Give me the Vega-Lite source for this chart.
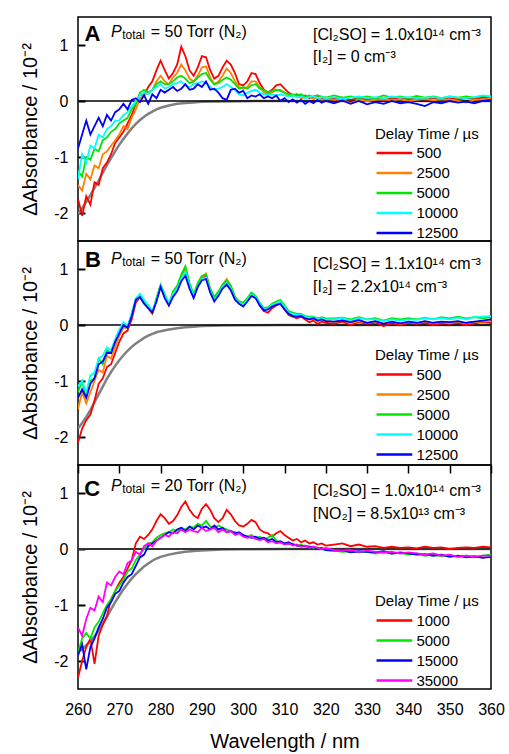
{
"$schema":"https://vega.github.io/schema/vega-lite/v6.json",
"padding":{"left":20,"top":16,"right":5,"bottom":5},
"spacing":0,
"bounds":"flush",
"config":{"font":"Liberation Sans","view":{"stroke":"black","strokeWidth":1.5},
"axis":{"labelColor":"black","titleColor":"black","labelFontSize":16,"titleFontSize":20,"titleFontWeight":"normal","grid":false,"domain":false,"ticks":true,"tickColor":"#000000","tickWidth":2,"tickOpacity":1},
"text":{"color":"black"},
"legend":{"orient":"none","symbolType":"M-1,0H5","symbolSize":142,"symbolStrokeWidth":2.5,"labelOffset":26.4,"rowPadding":4,"titlePadding":4,"padding":0,"labelFontSize":15,"titleFontSize":15,"titleFontWeight":"normal","labelColor":"black","titleColor":"black"}},
"datasets":{
"A":[
{"w":260,"500":-1.75,"2500":-1.5,"5000":-1.25,"10000":-1.4,"12500":-0.85},
{"w":261,"500":-2.05,"2500":-1.6,"5000":-1.35,"10000":-0.95,"12500":-0.6},
{"w":262,"500":-1.7,"2500":-1.3,"5000":-1.0,"10000":-1.1,"12500":-0.35},
{"w":263,"500":-1.85,"2500":-1.4,"5000":-1.05,"10000":-0.8,"12500":-0.6},
{"w":264,"500":-1.45,"2500":-1.15,"5000":-0.85,"10000":-0.85,"12500":-0.45},
{"w":265,"500":-1.5,"2500":-1.2,"5000":-0.9,"10000":-0.6,"12500":-0.3},
{"w":266,"500":-1.2,"2500":-0.95,"5000":-0.7,"10000":-0.65,"12500":-0.45},
{"w":267,"500":-1.1,"2500":-0.9,"5000":-0.65,"10000":-0.5,"12500":-0.25},
{"w":268,"500":-0.95,"2500":-0.8,"5000":-0.55,"10000":-0.45,"12500":-0.35},
{"w":269,"500":-0.75,"2500":-0.7,"5000":-0.5,"10000":-0.35,"12500":-0.2},
{"w":270,"500":-0.65,"2500":-0.6,"5000":-0.4,"10000":-0.35,"12500":-0.15},
{"w":271,"500":-0.55,"2500":-0.45,"5000":-0.35,"10000":-0.25,"12500":-0.05},
{"w":272,"500":-0.4,"2500":-0.5,"5000":-0.3,"10000":-0.2,"12500":-0.15},
{"w":273,"500":-0.25,"2500":-0.3,"5000":-0.15,"10000":-0.1,"12500":0.02},
{"w":274,"500":-0.05,"2500":-0.15,"5000":-0.05,"10000":0.0,"12500":0.05},
{"w":275,"500":0.12,"2500":0.05,"5000":0.15,"10000":0.1,"12500":-0.02},
{"w":276,"500":0.1,"2500":0.1,"5000":0.2,"10000":0.15,"12500":0.1},
{"w":277,"500":0.25,"2500":0.15,"5000":0.15,"10000":0.12,"12500":-0.05},
{"w":278,"500":0.35,"2500":0.2,"5000":0.2,"10000":0.2,"12500":0.12},
{"w":279,"500":0.55,"2500":0.35,"5000":0.3,"10000":0.25,"12500":0.05},
{"w":280,"500":0.72,"2500":0.45,"5000":0.35,"10000":0.3,"12500":0.2},
{"w":281,"500":0.55,"2500":0.35,"5000":0.3,"10000":0.22,"12500":0.15},
{"w":282,"500":0.4,"2500":0.3,"5000":0.3,"10000":0.25,"12500":0.2},
{"w":283,"500":0.5,"2500":0.42,"5000":0.35,"10000":0.3,"12500":0.25},
{"w":284,"500":0.65,"2500":0.5,"5000":0.42,"10000":0.32,"12500":0.18},
{"w":285,"500":0.97,"2500":0.65,"5000":0.45,"10000":0.35,"12500":0.22},
{"w":286,"500":0.8,"2500":0.55,"5000":0.4,"10000":0.28,"12500":0.3},
{"w":287,"500":0.55,"2500":0.4,"5000":0.32,"10000":0.25,"12500":0.2},
{"w":288,"500":0.45,"2500":0.35,"5000":0.35,"10000":0.3,"12500":0.22},
{"w":289,"500":0.6,"2500":0.45,"5000":0.42,"10000":0.32,"12500":0.3},
{"w":290,"500":0.8,"2500":0.6,"5000":0.48,"10000":0.35,"12500":0.25},
{"w":291,"500":0.78,"2500":0.62,"5000":0.5,"10000":0.33,"12500":0.35},
{"w":292,"500":0.55,"2500":0.42,"5000":0.38,"10000":0.25,"12500":0.2},
{"w":293,"500":0.4,"2500":0.3,"5000":0.3,"10000":0.2,"12500":0.22},
{"w":294,"500":0.45,"2500":0.35,"5000":0.32,"10000":0.22,"12500":0.15},
{"w":295,"500":0.6,"2500":0.45,"5000":0.38,"10000":0.25,"12500":0.05},
{"w":296,"500":0.72,"2500":0.58,"5000":0.42,"10000":0.3,"12500":0.02},
{"w":297,"500":0.65,"2500":0.5,"5000":0.38,"10000":0.25,"12500":0.2},
{"w":298,"500":0.5,"2500":0.35,"5000":0.3,"10000":0.2,"12500":0.22},
{"w":299,"500":0.3,"2500":0.25,"5000":0.22,"10000":0.12,"12500":0.15},
{"w":300,"500":0.28,"2500":0.22,"5000":0.25,"10000":0.1,"12500":0.18},
{"w":301,"500":0.35,"2500":0.25,"5000":0.22,"10000":0.15,"12500":0.05},
{"w":302,"500":0.5,"2500":0.35,"5000":0.28,"10000":0.18,"12500":0.1},
{"w":303,"500":0.48,"2500":0.35,"5000":0.3,"10000":0.2,"12500":0.08},
{"w":304,"500":0.32,"2500":0.25,"5000":0.22,"10000":0.15,"12500":0.12},
{"w":305,"500":0.2,"2500":0.15,"5000":0.2,"10000":0.12,"12500":0.05},
{"w":306,"500":0.15,"2500":0.12,"5000":0.15,"10000":0.1,"12500":0.08},
{"w":307,"500":0.2,"2500":0.15,"5000":0.18,"10000":0.12,"12500":0.05},
{"w":308,"500":0.28,"2500":0.2,"5000":0.2,"10000":0.1,"12500":0.1},
{"w":309,"500":0.3,"2500":0.2,"5000":0.18,"10000":0.12,"12500":0.0},
{"w":310,"500":0.22,"2500":0.15,"5000":0.15,"10000":0.1,"12500":0.05},
{"w":311,"500":0.15,"2500":0.1,"5000":0.12,"10000":0.08,"12500":-0.02},
{"w":312,"500":0.1,"2500":0.08,"5000":0.12,"10000":0.1,"12500":0.03},
{"w":313,"500":0.12,"2500":0.1,"5000":0.1,"10000":0.06,"12500":-0.03},
{"w":314,"500":0.08,"2500":0.05,"5000":0.12,"10000":0.08,"12500":0.02},
{"w":315,"500":0.1,"2500":0.06,"5000":0.08,"10000":0.05,"12500":-0.05},
{"w":316,"500":0.05,"2500":0.08,"5000":0.1,"10000":0.07,"12500":0.0},
{"w":317,"500":0.08,"2500":0.04,"5000":0.07,"10000":0.09,"12500":-0.04},
{"w":318,"500":0.1,"2500":0.06,"5000":0.1,"10000":0.05,"12500":0.02},
{"w":319,"500":0.05,"2500":0.02,"5000":0.08,"10000":0.07,"12500":-0.03},
{"w":320,"500":0.06,"2500":0.04,"5000":0.06,"10000":0.05,"12500":0.0},
{"w":322,"500":0.04,"2500":0.02,"5000":0.1,"10000":0.07,"12500":-0.04},
{"w":324,"500":0.06,"2500":0.03,"5000":0.06,"10000":0.04,"12500":0.01},
{"w":326,"500":0.02,"2500":-0.04,"5000":0.08,"10000":0.06,"12500":-0.05},
{"w":328,"500":0.05,"2500":0.02,"5000":0.05,"10000":0.08,"12500":0.0},
{"w":330,"500":0.03,"2500":0.0,"5000":0.08,"10000":0.05,"12500":-0.06},
{"w":332,"500":0.05,"2500":0.02,"5000":0.05,"10000":0.07,"12500":-0.02},
{"w":334,"500":0.02,"2500":0.03,"5000":0.1,"10000":0.05,"12500":-0.05},
{"w":336,"500":0.04,"2500":0.01,"5000":0.06,"10000":0.08,"12500":0.0},
{"w":338,"500":0.06,"2500":0.03,"5000":0.08,"10000":0.06,"12500":-0.04},
{"w":340,"500":0.03,"2500":0.0,"5000":0.05,"10000":0.07,"12500":-0.02},
{"w":342,"500":0.05,"2500":0.02,"5000":0.09,"10000":0.05,"12500":-0.05},
{"w":344,"500":0.02,"2500":0.04,"5000":0.06,"10000":0.06,"12500":-0.09},
{"w":346,"500":0.05,"2500":0.01,"5000":0.08,"10000":0.07,"12500":-0.02},
{"w":348,"500":0.04,"2500":0.03,"5000":0.05,"10000":0.05,"12500":-0.04},
{"w":350,"500":0.06,"2500":0.02,"5000":0.08,"10000":0.08,"12500":0.0},
{"w":352,"500":0.03,"2500":0.0,"5000":0.06,"10000":0.06,"12500":-0.03},
{"w":354,"500":0.05,"2500":-0.03,"5000":0.08,"10000":0.05,"12500":-0.01},
{"w":356,"500":0.04,"2500":0.02,"5000":0.06,"10000":0.07,"12500":-0.04},
{"w":358,"500":0.06,"2500":0.03,"5000":0.09,"10000":0.1,"12500":0.0},
{"w":360,"500":0.05,"2500":0.04,"5000":0.07,"10000":0.08,"12500":0.02}
],
"B":[
{"w":260,"500":-2.1,"2500":-1.5,"5000":-1.2,"10000":-1.1,"12500":-1.3},
{"w":261,"500":-1.85,"2500":-1.2,"5000":-1.0,"10000":-1.0,"12500":-1.15},
{"w":262,"500":-1.7,"2500":-1.4,"5000":-1.3,"10000":-1.2,"12500":-1.3},
{"w":263,"500":-1.6,"2500":-1.2,"5000":-1.0,"10000":-0.9,"12500":-1.05},
{"w":264,"500":-1.35,"2500":-1.0,"5000":-0.95,"10000":-0.85,"12500":-0.95},
{"w":265,"500":-1.05,"2500":-0.8,"5000":-0.6,"10000":-0.6,"12500":-0.7},
{"w":266,"500":-0.95,"2500":-0.85,"5000":-0.7,"10000":-0.55,"12500":-0.65},
{"w":267,"500":-0.75,"2500":-0.55,"5000":-0.45,"10000":-0.4,"12500":-0.5},
{"w":268,"500":-0.7,"2500":-0.6,"5000":-0.5,"10000":-0.45,"12500":-0.5},
{"w":269,"500":-0.5,"2500":-0.4,"5000":-0.3,"10000":-0.25,"12500":-0.3},
{"w":270,"500":-0.3,"2500":-0.2,"5000":-0.1,"10000":-0.08,"12500":-0.15},
{"w":271,"500":-0.15,"2500":-0.05,"5000":0.0,"10000":0.05,"12500":0.0},
{"w":272,"500":-0.1,"2500":-0.05,"5000":-0.05,"10000":-0.02,"12500":-0.05},
{"w":273,"500":0.1,"2500":0.15,"5000":0.2,"10000":0.2,"12500":0.15},
{"w":274,"500":0.4,"2500":0.45,"5000":0.45,"10000":0.48,"12500":0.45},
{"w":275,"500":0.5,"2500":0.5,"5000":0.55,"10000":0.55,"12500":0.5},
{"w":276,"500":0.4,"2500":0.4,"5000":0.42,"10000":0.45,"12500":0.38},
{"w":277,"500":0.3,"2500":0.32,"5000":0.35,"10000":0.35,"12500":0.3},
{"w":278,"500":0.2,"2500":0.22,"5000":0.22,"10000":0.25,"12500":0.22},
{"w":279,"500":0.45,"2500":0.45,"5000":0.48,"10000":0.45,"12500":0.42},
{"w":280,"500":0.7,"2500":0.68,"5000":0.72,"10000":0.7,"12500":0.68},
{"w":281,"500":0.5,"2500":0.5,"5000":0.55,"10000":0.52,"12500":0.48},
{"w":282,"500":0.35,"2500":0.38,"5000":0.38,"10000":0.4,"12500":0.35},
{"w":283,"500":0.55,"2500":0.55,"5000":0.6,"10000":0.55,"12500":0.5},
{"w":284,"500":0.65,"2500":0.68,"5000":0.7,"10000":0.65,"12500":0.6},
{"w":285,"500":0.85,"2500":0.85,"5000":0.9,"10000":0.82,"12500":0.78},
{"w":286,"500":1.0,"2500":0.98,"5000":1.05,"10000":0.95,"12500":0.88},
{"w":287,"500":0.72,"2500":0.72,"5000":0.75,"10000":0.7,"12500":0.65},
{"w":288,"500":0.5,"2500":0.52,"5000":0.55,"10000":0.52,"12500":0.48},
{"w":289,"500":0.7,"2500":0.72,"5000":0.75,"10000":0.7,"12500":0.68},
{"w":290,"500":0.85,"2500":0.85,"5000":0.88,"10000":0.82,"12500":0.8},
{"w":291,"500":0.88,"2500":0.92,"5000":0.9,"10000":0.85,"12500":0.82},
{"w":292,"500":0.62,"2500":0.65,"5000":0.65,"10000":0.6,"12500":0.58},
{"w":293,"500":0.45,"2500":0.48,"5000":0.5,"10000":0.45,"12500":0.42},
{"w":294,"500":0.55,"2500":0.58,"5000":0.6,"10000":0.55,"12500":0.52},
{"w":295,"500":0.7,"2500":0.72,"5000":0.72,"10000":0.68,"12500":0.65},
{"w":296,"500":0.78,"2500":0.82,"5000":0.8,"10000":0.75,"12500":0.72},
{"w":297,"500":0.68,"2500":0.7,"5000":0.7,"10000":0.65,"12500":0.62},
{"w":298,"500":0.5,"2500":0.48,"5000":0.5,"10000":0.46,"12500":0.45},
{"w":299,"500":0.4,"2500":0.42,"5000":0.42,"10000":0.4,"12500":0.38},
{"w":300,"500":0.35,"2500":0.38,"5000":0.4,"10000":0.36,"12500":0.33},
{"w":301,"500":0.45,"2500":0.45,"5000":0.48,"10000":0.45,"12500":0.42},
{"w":302,"500":0.55,"2500":0.55,"5000":0.58,"10000":0.54,"12500":0.52},
{"w":303,"500":0.5,"2500":0.5,"5000":0.52,"10000":0.5,"12500":0.48},
{"w":304,"500":0.35,"2500":0.38,"5000":0.4,"10000":0.38,"12500":0.35},
{"w":305,"500":0.25,"2500":0.28,"5000":0.3,"10000":0.28,"12500":0.26},
{"w":306,"500":0.22,"2500":0.3,"5000":0.32,"10000":0.3,"12500":0.28},
{"w":307,"500":0.3,"2500":0.35,"5000":0.38,"10000":0.36,"12500":0.33},
{"w":308,"500":0.35,"2500":0.38,"5000":0.42,"10000":0.38,"12500":0.36},
{"w":309,"500":0.38,"2500":0.4,"5000":0.45,"10000":0.42,"12500":0.38},
{"w":310,"500":0.28,"2500":0.3,"5000":0.35,"10000":0.32,"12500":0.28},
{"w":311,"500":0.18,"2500":0.2,"5000":0.25,"10000":0.22,"12500":0.2},
{"w":312,"500":0.15,"2500":0.18,"5000":0.22,"10000":0.2,"12500":0.16},
{"w":313,"500":0.12,"2500":0.15,"5000":0.2,"10000":0.18,"12500":0.15},
{"w":314,"500":0.15,"2500":0.17,"5000":0.2,"10000":0.18,"12500":0.16},
{"w":315,"500":0.1,"2500":0.12,"5000":0.16,"10000":0.14,"12500":0.12},
{"w":316,"500":0.05,"2500":0.1,"5000":0.15,"10000":0.13,"12500":0.1},
{"w":317,"500":0.08,"2500":0.12,"5000":0.15,"10000":0.14,"12500":0.12},
{"w":318,"500":0.02,"2500":0.06,"5000":0.12,"10000":0.1,"12500":0.08},
{"w":319,"500":0.06,"2500":0.1,"5000":0.14,"10000":0.12,"12500":0.1},
{"w":320,"500":0.04,"2500":0.08,"5000":0.12,"10000":0.1,"12500":0.07},
{"w":322,"500":0.02,"2500":0.05,"5000":0.12,"10000":0.1,"12500":0.06},
{"w":324,"500":0.06,"2500":0.08,"5000":0.13,"10000":0.12,"12500":0.08},
{"w":326,"500":0.0,"2500":0.04,"5000":0.1,"10000":0.08,"12500":0.05},
{"w":328,"500":0.05,"2500":0.07,"5000":0.14,"10000":0.12,"12500":0.09},
{"w":330,"500":0.02,"2500":0.04,"5000":0.1,"10000":0.1,"12500":0.04},
{"w":332,"500":0.04,"2500":0.06,"5000":0.12,"10000":0.1,"12500":0.07},
{"w":334,"500":-0.02,"2500":0.03,"5000":0.08,"10000":0.07,"12500":0.02},
{"w":336,"500":0.03,"2500":0.06,"5000":0.12,"10000":0.1,"12500":0.06},
{"w":338,"500":0.0,"2500":0.02,"5000":0.1,"10000":0.08,"12500":0.03},
{"w":340,"500":0.04,"2500":0.05,"5000":0.12,"10000":0.1,"12500":0.06},
{"w":342,"500":0.02,"2500":0.03,"5000":0.1,"10000":0.09,"12500":0.04},
{"w":344,"500":0.04,"2500":0.06,"5000":0.13,"10000":0.12,"12500":0.07},
{"w":346,"500":0.0,"2500":0.03,"5000":0.1,"10000":0.1,"12500":0.04},
{"w":348,"500":0.03,"2500":0.05,"5000":0.14,"10000":0.12,"12500":0.06},
{"w":350,"500":0.02,"2500":0.03,"5000":0.12,"10000":0.1,"12500":0.05},
{"w":352,"500":0.04,"2500":0.06,"5000":0.15,"10000":0.13,"12500":0.07},
{"w":354,"500":0.0,"2500":0.03,"5000":0.12,"10000":0.1,"12500":0.04},
{"w":356,"500":0.03,"2500":0.05,"5000":0.14,"10000":0.14,"12500":0.06},
{"w":358,"500":0.05,"2500":0.06,"5000":0.12,"10000":0.15,"12500":0.08},
{"w":360,"500":0.04,"2500":0.07,"5000":0.14,"10000":0.16,"12500":0.1}
],
"C":[
{"w":260,"1000":-2.3,"5000":-1.85,"15000":-1.9,"35000":-1.4},
{"w":261,"1000":-2.0,"5000":-1.6,"15000":-1.7,"35000":-1.55},
{"w":262,"1000":-1.75,"5000":-1.5,"15000":-2.15,"35000":-1.25},
{"w":263,"1000":-1.6,"5000":-1.6,"15000":-1.75,"35000":-1.05},
{"w":264,"1000":-2.05,"5000":-1.4,"15000":-1.6,"35000":-1.1},
{"w":265,"1000":-1.55,"5000":-1.3,"15000":-1.4,"35000":-0.85},
{"w":266,"1000":-1.35,"5000":-1.15,"15000":-1.25,"35000":-0.95},
{"w":267,"1000":-1.2,"5000":-1.0,"15000":-1.05,"35000":-0.6},
{"w":268,"1000":-0.9,"5000":-0.9,"15000":-0.95,"35000":-0.65},
{"w":269,"1000":-0.75,"5000":-0.75,"15000":-0.8,"35000":-0.5},
{"w":270,"1000":-0.6,"5000":-0.65,"15000":-0.75,"35000":-0.4},
{"w":271,"1000":-0.5,"5000":-0.55,"15000":-0.6,"35000":-0.45},
{"w":272,"1000":-0.35,"5000":-0.4,"15000":-0.5,"35000":-0.25},
{"w":273,"1000":-0.2,"5000":-0.35,"15000":-0.45,"35000":-0.2},
{"w":274,"1000":0.1,"5000":-0.2,"15000":-0.3,"35000":-0.05},
{"w":275,"1000":0.22,"5000":-0.1,"15000":-0.15,"35000":-0.1},
{"w":276,"1000":0.18,"5000":0.0,"15000":-0.1,"35000":0.05},
{"w":277,"1000":0.25,"5000":0.1,"15000":0.05,"35000":0.1},
{"w":278,"1000":0.35,"5000":0.12,"15000":0.1,"35000":0.05},
{"w":279,"1000":0.5,"5000":0.2,"15000":0.15,"35000":0.15},
{"w":280,"1000":0.62,"5000":0.25,"15000":0.2,"35000":0.2},
{"w":281,"1000":0.55,"5000":0.28,"15000":0.25,"35000":0.25},
{"w":282,"1000":0.45,"5000":0.3,"15000":0.3,"35000":0.22},
{"w":283,"1000":0.5,"5000":0.35,"15000":0.28,"35000":0.3},
{"w":284,"1000":0.6,"5000":0.32,"15000":0.35,"35000":0.28},
{"w":285,"1000":0.75,"5000":0.38,"15000":0.38,"35000":0.35},
{"w":286,"1000":0.85,"5000":0.35,"15000":0.32,"35000":0.3},
{"w":287,"1000":0.7,"5000":0.4,"15000":0.4,"35000":0.35},
{"w":288,"1000":0.6,"5000":0.38,"15000":0.35,"35000":0.32},
{"w":289,"1000":0.55,"5000":0.45,"15000":0.42,"35000":0.3},
{"w":290,"1000":0.72,"5000":0.42,"15000":0.38,"35000":0.38},
{"w":291,"1000":0.8,"5000":0.5,"15000":0.4,"35000":0.32},
{"w":292,"1000":0.7,"5000":0.4,"15000":0.35,"35000":0.35},
{"w":293,"1000":0.55,"5000":0.38,"15000":0.42,"35000":0.38},
{"w":294,"1000":0.48,"5000":0.42,"15000":0.35,"35000":0.3},
{"w":295,"1000":0.55,"5000":0.38,"15000":0.38,"35000":0.35},
{"w":296,"1000":0.7,"5000":0.35,"15000":0.3,"35000":0.3},
{"w":297,"1000":0.62,"5000":0.32,"15000":0.32,"35000":0.32},
{"w":298,"1000":0.5,"5000":0.3,"15000":0.28,"35000":0.25},
{"w":299,"1000":0.42,"5000":0.28,"15000":0.3,"35000":0.28},
{"w":300,"1000":0.4,"5000":0.25,"15000":0.25,"35000":0.22},
{"w":301,"1000":0.45,"5000":0.22,"15000":0.22,"35000":0.2},
{"w":302,"1000":0.52,"5000":0.25,"15000":0.2,"35000":0.22},
{"w":303,"1000":0.48,"5000":0.2,"15000":0.22,"35000":0.18},
{"w":304,"1000":0.35,"5000":0.22,"15000":0.18,"35000":0.16},
{"w":305,"1000":0.3,"5000":0.18,"15000":0.2,"35000":0.18},
{"w":306,"1000":0.28,"5000":0.2,"15000":0.15,"35000":0.12},
{"w":307,"1000":0.22,"5000":0.25,"15000":0.18,"35000":0.14},
{"w":308,"1000":0.28,"5000":0.15,"15000":0.12,"35000":0.1},
{"w":309,"1000":0.32,"5000":0.12,"15000":0.14,"35000":0.12},
{"w":310,"1000":0.25,"5000":0.1,"15000":0.1,"35000":0.08},
{"w":311,"1000":0.2,"5000":0.08,"15000":0.12,"35000":0.1},
{"w":312,"1000":0.15,"5000":0.1,"15000":0.08,"35000":0.06},
{"w":313,"1000":0.18,"5000":0.06,"15000":0.06,"35000":0.08},
{"w":314,"1000":0.12,"5000":0.08,"15000":0.05,"35000":0.04},
{"w":315,"1000":0.15,"5000":0.04,"15000":0.06,"35000":0.06},
{"w":316,"1000":0.1,"5000":0.05,"15000":0.03,"35000":0.02},
{"w":317,"1000":0.12,"5000":0.02,"15000":0.04,"35000":0.04},
{"w":318,"1000":0.08,"5000":0.03,"15000":0.0,"35000":0.02},
{"w":319,"1000":0.1,"5000":0.0,"15000":0.02,"35000":0.0},
{"w":320,"1000":0.06,"5000":-0.02,"15000":-0.02,"35000":0.02},
{"w":322,"1000":0.08,"5000":-0.03,"15000":-0.03,"35000":-0.02},
{"w":324,"1000":0.1,"5000":-0.05,"15000":-0.02,"35000":-0.03},
{"w":326,"1000":0.05,"5000":-0.04,"15000":-0.06,"35000":-0.02},
{"w":328,"1000":0.08,"5000":-0.06,"15000":-0.04,"35000":-0.05},
{"w":330,"1000":0.04,"5000":-0.05,"15000":-0.05,"35000":-0.03},
{"w":332,"1000":0.05,"5000":-0.08,"15000":-0.06,"35000":-0.05},
{"w":334,"1000":0.02,"5000":-0.06,"15000":-0.04,"35000":-0.06},
{"w":336,"1000":0.04,"5000":-0.08,"15000":-0.08,"35000":-0.05},
{"w":338,"1000":0.02,"5000":-0.07,"15000":-0.06,"35000":-0.08},
{"w":340,"1000":0.03,"5000":-0.1,"15000":-0.08,"35000":-0.06},
{"w":342,"1000":0.01,"5000":-0.08,"15000":-0.1,"35000":-0.08},
{"w":344,"1000":0.04,"5000":-0.12,"15000":-0.09,"35000":-0.1},
{"w":346,"1000":0.02,"5000":-0.1,"15000":-0.12,"35000":-0.08},
{"w":348,"1000":0.03,"5000":-0.13,"15000":-0.1,"35000":-0.12},
{"w":350,"1000":0.0,"5000":-0.12,"15000":-0.14,"35000":-0.1},
{"w":352,"1000":0.02,"5000":-0.14,"15000":-0.12,"35000":-0.14},
{"w":354,"1000":0.03,"5000":-0.12,"15000":-0.15,"35000":-0.12},
{"w":356,"1000":0.02,"5000":-0.15,"15000":-0.13,"35000":-0.14},
{"w":358,"1000":0.04,"5000":-0.12,"15000":-0.16,"35000":-0.12},
{"w":360,"1000":0.03,"5000":-0.1,"15000":-0.14,"35000":-0.12}
],
"gA":[{"w":260,"g":-2.02},{"w":261,"g":-1.92},{"w":262,"g":-1.8},{"w":263,"g":-1.68},{"w":264,"g":-1.55},{"w":265,"g":-1.42},{"w":266,"g":-1.28},{"w":267,"g":-1.15},{"w":268,"g":-1.02},{"w":269,"g":-0.9},{"w":270,"g":-0.78},{"w":271,"g":-0.68},{"w":272,"g":-0.58},{"w":273,"g":-0.49},{"w":274,"g":-0.41},{"w":275,"g":-0.34},{"w":276,"g":-0.28},{"w":277,"g":-0.23},{"w":278,"g":-0.19},{"w":279,"g":-0.15},{"w":280,"g":-0.12},{"w":282,"g":-0.08},{"w":284,"g":-0.05},{"w":286,"g":-0.035},{"w":288,"g":-0.025},{"w":290,"g":-0.015},{"w":295,"g":-0.008},{"w":300,"g":-0.003},{"w":310,"g":0},{"w":360,"g":0}],
"gB":[{"w":260,"g":-1.85},{"w":261,"g":-1.75},{"w":262,"g":-1.64},{"w":263,"g":-1.52},{"w":264,"g":-1.38},{"w":265,"g":-1.24},{"w":266,"g":-1.1},{"w":267,"g":-0.96},{"w":268,"g":-0.84},{"w":269,"g":-0.73},{"w":270,"g":-0.63},{"w":271,"g":-0.54},{"w":272,"g":-0.46},{"w":273,"g":-0.39},{"w":274,"g":-0.33},{"w":275,"g":-0.28},{"w":276,"g":-0.23},{"w":277,"g":-0.19},{"w":278,"g":-0.16},{"w":279,"g":-0.13},{"w":280,"g":-0.11},{"w":282,"g":-0.08},{"w":284,"g":-0.06},{"w":286,"g":-0.04},{"w":288,"g":-0.03},{"w":290,"g":-0.02},{"w":295,"g":-0.01},{"w":300,"g":-0.005},{"w":310,"g":0},{"w":360,"g":0}],
"gC":[{"w":260,"g":-1.84},{"w":261,"g":-1.79},{"w":262,"g":-1.72},{"w":263,"g":-1.64},{"w":264,"g":-1.56},{"w":265,"g":-1.45},{"w":266,"g":-1.34},{"w":267,"g":-1.21},{"w":268,"g":-1.08},{"w":269,"g":-0.95},{"w":270,"g":-0.83},{"w":271,"g":-0.72},{"w":272,"g":-0.62},{"w":273,"g":-0.53},{"w":274,"g":-0.45},{"w":275,"g":-0.38},{"w":276,"g":-0.31},{"w":277,"g":-0.26},{"w":278,"g":-0.21},{"w":279,"g":-0.17},{"w":280,"g":-0.14},{"w":282,"g":-0.1},{"w":284,"g":-0.07},{"w":286,"g":-0.05},{"w":288,"g":-0.035},{"w":290,"g":-0.025},{"w":295,"g":-0.01},{"w":300,"g":-0.005},{"w":310,"g":0},{"w":360,"g":0}]
},
"resolve":{"scale":{"color":"independent"},"legend":{"color":"independent"}},
"vconcat":[
{"width":413,"height":224,
"layer":[
{"data":{"name":"gA"},"mark":{"type":"line","color":"#808080","strokeWidth":2.5,"clip":true},
"encoding":{"x":{"field":"w","type":"quantitative","scale":{"domain":[260,360],"nice":false},"axis":null},
"y":{"field":"g","type":"quantitative","scale":{"domain":[-2.5,1.5],"nice":false},"axis":{"title":"ΔAbsorbance / 10⁻²","values":[-2,-1.5,-1,-0.5,0,0.5,1],"ticks":true,"tickSize":-7,"labelPadding":17,"titlePadding":13,"labelExpr":"datum.value % 1 != 0 ? '' : (datum.value < 0 ? '-' + abs(datum.value) : format(datum.value, 'd'))"}}}},
{"data":{"values":[{}]},"mark":{"type":"rule","color":"black","strokeWidth":1.5},"encoding":{"y":{"datum":0}}},
{"data":{"name":"A"},"transform":[{"fold":["500","2500","5000","10000","12500"],"as":["s","v"]}],
"mark":{"type":"line","strokeWidth":1.8,"clip":true},
"encoding":{"x":{"field":"w","type":"quantitative"},"y":{"field":"v","type":"quantitative"},
"color":{"field":"s","type":"nominal","scale":{"domain":["500","2500","5000","10000","12500"],"range":["#ff0000","#ff8000","#00e600","#00ffff","#0000ff"]},"legend":{"title":"Delay Time / µs","legendX":297,"legendY":109.5}}}},
{"data":{"values":[{}]},"mark":{"type":"text","text":"A","align":"left","baseline":"alphabetic","fontSize":22,"fontWeight":"bold"},"encoding":{"x":{"datum":261.6},"y":{"datum":1.08}}},
{"data":{"values":[{}]},"mark":{"type":"text","text":"P","align":"left","baseline":"alphabetic","fontSize":16,"fontStyle":"italic"},"encoding":{"x":{"datum":268.0},"y":{"datum":1.143}}},
{"data":{"values":[{}]},"mark":{"type":"text","text":"total","align":"left","baseline":"alphabetic","fontSize":12},"encoding":{"x":{"datum":270.7},"y":{"datum":1.112}}},
{"data":{"values":[{}]},"mark":{"type":"text","text":"= 50 Torr (N₂)","align":"left","baseline":"alphabetic","fontSize":16},"encoding":{"x":{"datum":277.6},"y":{"datum":1.143}}},
{"data":{"values":[{}]},"mark":{"type":"text","text":"[Cl₂SO] = 1.0x10¹⁴ cm⁻³","align":"left","baseline":"alphabetic","fontSize":16},"encoding":{"x":{"datum":316.9},"y":{"datum":1.09}}},
{"data":{"values":[{}]},"mark":{"type":"text","text":"[I₂] = 0 cm⁻³","align":"left","baseline":"alphabetic","fontSize":16},"encoding":{"x":{"datum":316.9},"y":{"datum":0.70}}}
]},
{"width":413,"height":224,
"layer":[
{"data":{"name":"gB"},"mark":{"type":"line","color":"#808080","strokeWidth":2.5,"clip":true},
"encoding":{"x":{"field":"w","type":"quantitative","scale":{"domain":[260,360],"nice":false},"axis":{"title":null,"labels":false,"domain":false,"ticks":true,"tickSize":8,"tickWidth":1.5,"values":[260,265,270,275,280,285,290,295,300,305,310,315,320,325,330,335,340,345,350,355,360]}},
"y":{"field":"g","type":"quantitative","scale":{"domain":[-2.5,1.5],"nice":false},"axis":{"title":"ΔAbsorbance / 10⁻²","values":[-2,-1.5,-1,-0.5,0,0.5,1],"ticks":true,"tickSize":-7,"labelPadding":17,"titlePadding":13,"labelExpr":"datum.value % 1 != 0 ? '' : (datum.value < 0 ? '-' + abs(datum.value) : format(datum.value, 'd'))"}}}},
{"data":{"values":[{}]},"mark":{"type":"rule","color":"black","strokeWidth":1.5},"encoding":{"y":{"datum":0}}},
{"data":{"name":"B"},"transform":[{"fold":["500","2500","5000","10000","12500"],"as":["s","v"]}],
"mark":{"type":"line","strokeWidth":1.8,"clip":true},
"encoding":{"x":{"field":"w","type":"quantitative"},"y":{"field":"v","type":"quantitative"},
"color":{"field":"s","type":"nominal","scale":{"domain":["500","2500","5000","10000","12500"],"range":["#ff0000","#ff8000","#00e600","#00ffff","#0000ff"]},"legend":{"title":"Delay Time / µs","legendX":297,"legendY":107}}}},
{"data":{"values":[{}]},"mark":{"type":"text","text":"B","align":"left","baseline":"alphabetic","fontSize":22,"fontWeight":"bold"},"encoding":{"x":{"datum":261.7},"y":{"datum":1.03}}},
{"data":{"values":[{}]},"mark":{"type":"text","text":"P","align":"left","baseline":"alphabetic","fontSize":16,"fontStyle":"italic"},"encoding":{"x":{"datum":268.0},"y":{"datum":1.084}}},
{"data":{"values":[{}]},"mark":{"type":"text","text":"total","align":"left","baseline":"alphabetic","fontSize":12},"encoding":{"x":{"datum":270.7},"y":{"datum":1.054}}},
{"data":{"values":[{}]},"mark":{"type":"text","text":"= 50 Torr (N₂)","align":"left","baseline":"alphabetic","fontSize":16},"encoding":{"x":{"datum":277.6},"y":{"datum":1.084}}},
{"data":{"values":[{}]},"mark":{"type":"text","text":"[Cl₂SO] = 1.1x10¹⁴ cm⁻³","align":"left","baseline":"alphabetic","fontSize":16},"encoding":{"x":{"datum":316.9},"y":{"datum":0.995}}},
{"data":{"values":[{}]},"mark":{"type":"text","text":"[I₂] =  2.2x10¹⁴ cm⁻³","align":"left","baseline":"alphabetic","fontSize":16},"encoding":{"x":{"datum":316.9},"y":{"datum":0.584}}}
]},
{"width":413,"height":224,
"layer":[
{"data":{"name":"gC"},"mark":{"type":"line","color":"#808080","strokeWidth":2.5,"clip":true},
"encoding":{"x":{"field":"w","type":"quantitative","scale":{"domain":[260,360],"nice":false},"axis":{"title":"Wavelength / nm","values":[260,270,280,290,300,310,320,330,340,350,360],"ticks":false,"labelPadding":12,"titlePadding":14,"labelFlush":false}},
"y":{"field":"g","type":"quantitative","scale":{"domain":[-2.5,1.5],"nice":false},"axis":{"title":"ΔAbsorbance / 10⁻²","values":[-2,-1.5,-1,-0.5,0,0.5,1],"ticks":true,"tickSize":-7,"labelPadding":17,"titlePadding":13,"labelExpr":"datum.value % 1 != 0 ? '' : (datum.value < 0 ? '-' + abs(datum.value) : format(datum.value, 'd'))"}}}},
{"data":{"values":[{}]},"mark":{"type":"rule","color":"#333333","strokeWidth":2},"encoding":{"y":{"datum":0}}},
{"data":{"name":"C"},"transform":[{"fold":["1000","5000","15000","35000"],"as":["s","v"]}],
"mark":{"type":"line","strokeWidth":1.8,"clip":true},
"encoding":{"x":{"field":"w","type":"quantitative"},"y":{"field":"v","type":"quantitative"},
"color":{"field":"s","type":"nominal","scale":{"domain":["1000","5000","15000","35000"],"range":["#ff0000","#00e600","#0000ff","#ff00ff"]},"legend":{"title":"Delay Time / µs","legendX":297,"legendY":129}}}},
{"data":{"values":[{}]},"mark":{"type":"text","text":"C","align":"left","baseline":"alphabetic","fontSize":22,"fontWeight":"bold"},"encoding":{"x":{"datum":261.5},"y":{"datum":0.95}}},
{"data":{"values":[{}]},"mark":{"type":"text","text":"P","align":"left","baseline":"alphabetic","fontSize":16,"fontStyle":"italic"},"encoding":{"x":{"datum":268.0},"y":{"datum":1.03}}},
{"data":{"values":[{}]},"mark":{"type":"text","text":"total","align":"left","baseline":"alphabetic","fontSize":12},"encoding":{"x":{"datum":270.7},"y":{"datum":1.0}}},
{"data":{"values":[{}]},"mark":{"type":"text","text":"= 20 Torr (N₂)","align":"left","baseline":"alphabetic","fontSize":16},"encoding":{"x":{"datum":277.6},"y":{"datum":1.03}}},
{"data":{"values":[{}]},"mark":{"type":"text","text":"[Cl₂SO] = 1.0x10¹⁴ cm⁻³","align":"left","baseline":"alphabetic","fontSize":16},"encoding":{"x":{"datum":316.9},"y":{"datum":0.954}}},
{"data":{"values":[{}]},"mark":{"type":"text","text":"[NO₂] =  8.5x10¹³ cm⁻³","align":"left","baseline":"alphabetic","fontSize":16},"encoding":{"x":{"datum":316.9},"y":{"datum":0.54}}}
]}
]
}
